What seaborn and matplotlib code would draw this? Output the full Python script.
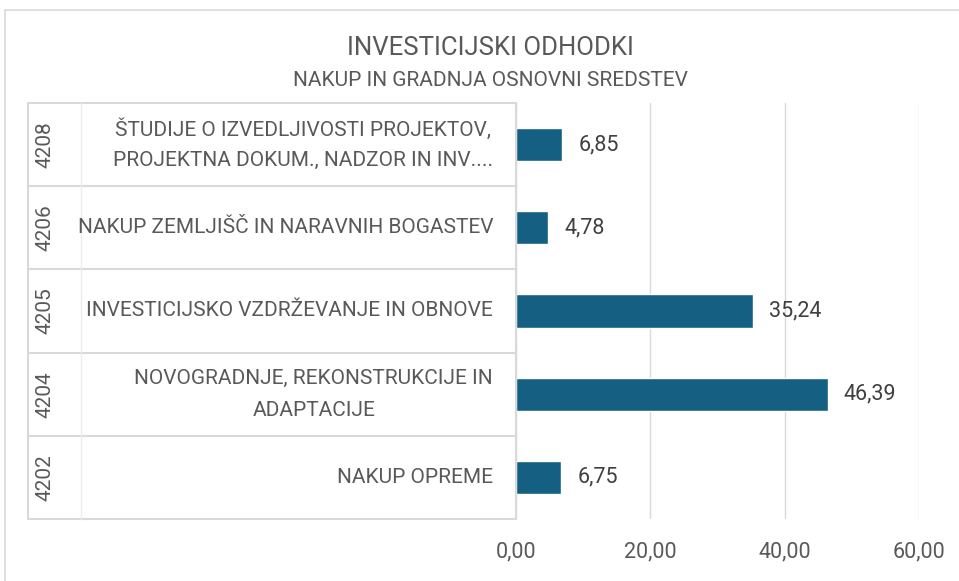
import matplotlib
matplotlib.use("Agg")
import matplotlib.pyplot as plt
import matplotlib.transforms as mtransforms
from matplotlib.patches import Rectangle
import seaborn as sns
import pandas as pd

# --- Data ---
codes = ["4208", "4206", "4205", "4204", "4202"]
labels = [
    "ŠTUDIJE O IZVEDLJIVOSTI PROJEKTOV,\nPROJEKTNA DOKUM., NADZOR IN INV....",
    "NAKUP ZEMLJIŠČ IN NARAVNIH BOGASTEV",
    "INVESTICIJSKO VZDRŽEVANJE IN OBNOVE",
    "NOVOGRADNJE, REKONSTRUKCIJE IN\nADAPTACIJE",
    "NAKUP OPREME",
]
values = [6.85, 4.78, 35.24, 46.39, 6.75]
xticks = [0, 20, 40, 60]

df = pd.DataFrame({"code": codes, "label": labels, "value": values})

BAR = "#156082"
TXT = "#595959"
LINE = "#d9d9d9"

sns.set_theme(style="white")
plt.rcParams["font.family"] = ["Roboto", "DejaVu Sans"]

fig = plt.figure(figsize=(9.59, 5.81), dpi=100)
ax = fig.add_axes([516 / 959, 62 / 581, 403 / 959, 416 / 581])

sns.barplot(data=df, x="value", y="code", order=codes, color=BAR,
            width=0.4, orient="h", saturation=1, ax=ax)

ax.set_xlim(0, 60)
ax.set_ylim(len(codes) - 0.5, -0.5)
ax.set_xticks(xticks)
ax.set_xticklabels([f"{t:.2f}".replace(".", ",") for t in xticks],
                   color=TXT, fontsize=15.5)
ax.tick_params(axis="x", length=0, pad=16)
ax.set_yticks([])
ax.set_xlabel("")
ax.set_ylabel("")
for s in ax.spines.values():
    s.set_visible(False)
ax.xaxis.grid(True, color=LINE, linewidth=1)
ax.set_axisbelow(True)

# value labels
for i, v in enumerate(values):
    ax.text(v + 2.4, i, f"{v:.2f}".replace(".", ","), va="center", ha="left",
            color="#404040", fontsize=15.5)

# category table on the left
tr = mtransforms.blended_transform_factory(ax.transAxes, ax.transData)
x_left = (28 - 516) / 403
x_div = (81 - 516) / 403
for b in [i - 0.5 for i in range(len(codes) + 1)]:
    ax.plot([x_left, 0], [b, b], transform=tr, color=LINE, lw=1.5, clip_on=False)
ax.plot([0, 0], [-0.5, len(codes) - 0.5], transform=tr, color=LINE, lw=1.5, clip_on=False)
ax.plot([x_left, x_left], [-0.5, len(codes) - 0.5], transform=tr, color=LINE, lw=1.5, clip_on=False)
ax.plot([x_div, x_div], [-0.5, len(codes) - 0.5], transform=tr, color="#ececec", lw=1, clip_on=False)

renderer = fig.canvas.get_renderer()
for i, (c, lab) in enumerate(zip(codes, labels)):
    ax.text((45 - 516) / 403, i, c, transform=tr, rotation=90, ha="center",
            va="center", color=TXT, fontsize=15)
    # block is right-aligned, each line centred inside it
    lines = lab.split("\n")
    widths = []
    for ln in lines:
        t = ax.text(0, 0, ln, fontsize=15)
        widths.append(t.get_window_extent(renderer).width)
        t.remove()
    cx = (493 - 516 - max(widths) / 2) / 403
    n = len(lines)
    for k, ln in enumerate(lines):
        ax.annotate(ln, xy=(cx, i), xycoords=tr,
                    xytext=(0, ((n - 1) / 2 - k) * 23), textcoords="offset points",
                    ha="center", va="center", color=TXT, fontsize=15,
                    annotation_clip=False)

# titles
fig.text(0.511, 1 - 48 / 581, "INVESTICIJSKI ODHODKI", ha="center", va="center",
         color=TXT, fontsize=18.5)
fig.text(0.511, 1 - 81 / 581, "NAKUP IN GRADNJA OSNOVNI SREDSTEV", ha="center",
         va="center", color=TXT, fontsize=15)

# chart border
fig.patches.append(Rectangle((5 / 959, -0.1), 1.2, 1.1 - 10 / 581,
                             transform=fig.transFigure, fill=False,
                             edgecolor=LINE, lw=1.2))

fig.savefig("out.png", dpi=100)
